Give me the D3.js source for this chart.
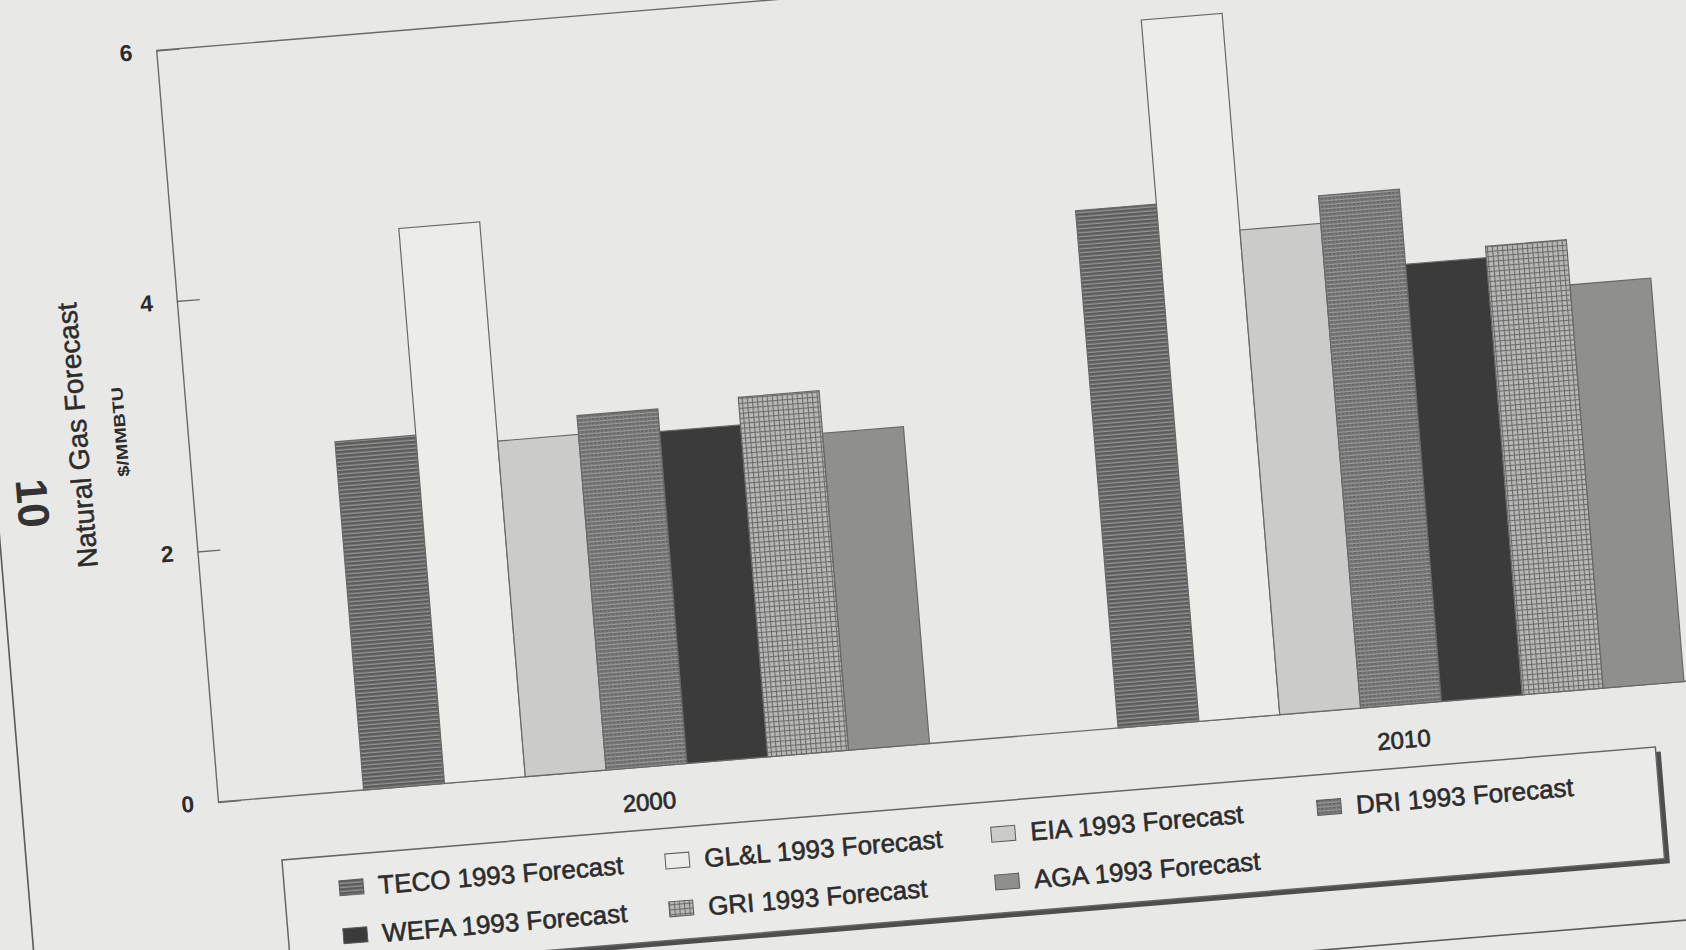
<!DOCTYPE html>
<html>
<head>
<meta charset="utf-8">
<script src="https://cdn.jsdelivr.net/npm/d3@7"></script>
<style>
  html, body { margin: 0; padding: 0; background: #e8e8e6; }
  svg { display: block; }
  text { font-family: "Liberation Sans", Arial, sans-serif; }
</style>
</head>
<body>
<svg id="chart" width="1686" height="950"></svg>
<script>
// Natural gas price forecasts, $/MMBTU
const categories = ["2000", "2010"];
const seriesNames = [
  "TECO 1993 Forecast", "GL&L 1993 Forecast", "EIA 1993 Forecast", "DRI 1993 Forecast",
  "WEFA 1993 Forecast", "GRI 1993 Forecast", "AGA 1993 Forecast"
];
const teco = [2.78, 4.13];
const gll  = [4.43, 5.60];
const eia  = [2.68, 3.87];
const dri  = [2.83, 4.09];
const wefa = [2.65, 3.49];
const gri  = [2.87, 3.58];
const aga  = [2.53, 3.22];
const yTicks = [0, 2, 4, 6];
const yTitle = "Natural Gas Forecast";
const yUnits = "$/MMBTU";
const pageNumber = "10";

const seriesValues = [teco, gll, eia, dri, wefa, gri, aga];
const seriesFills = ["url(#hlines)", "#ecece9", "#cbcbc9", "url(#grid-dark)", "#3b3b3b", "url(#grid-light)", "#8f8f8d"];

const W = 1686, H = 950;
const plotW = 1617, plotH = 754;
const ink = "#2c2c2c", lineCol = "#6a6a6a";

const svg = d3.select("#chart");
const defs = svg.append("defs");

function pattern(id, w, h) {
  return defs.append("pattern").attr("id", id)
    .attr("patternUnits", "userSpaceOnUse").attr("width", w).attr("height", h);
}
// horizontal hatching
let p = pattern("hlines", 4, 4);
p.append("rect").attr("width", 4).attr("height", 4).attr("fill", "#5c5c5c");
p.append("rect").attr("y", 2.7).attr("width", 4).attr("height", 1.1).attr("fill", "#a3a3a3");
// dense dark grid
p = pattern("grid-dark", 4, 4);
p.append("rect").attr("width", 4).attr("height", 4).attr("fill", "#686868");
p.append("rect").attr("y", 2.8).attr("width", 4).attr("height", 1).attr("fill", "#acacac");
p.append("rect").attr("x", 2.8).attr("width", 0.8).attr("height", 4).attr("fill", "#8a8a8a");
// open light grid
p = pattern("grid-light", 5, 5);
p.append("rect").attr("width", 5).attr("height", 5).attr("fill", "#b8b8b6");
p.append("rect").attr("width", 5).attr("height", 1.1).attr("fill", "#6c6c6c");
p.append("rect").attr("width", 1.1).attr("height", 5).attr("fill", "#6c6c6c");

// paper
svg.append("rect").attr("width", W).attr("height", H).attr("fill", "#e8e8e6");

// the whole sheet sits slightly rotated; origin at the plot's bottom-left corner
const g = svg.append("g").attr("transform", "translate(218,802) rotate(-4.7)");

// page border lines
g.append("line").attr("x1", -196).attr("y1", -1400).attr("x2", -196).attr("y2", 600)
  .attr("stroke", "#5a5a5a").attr("stroke-width", 1.6);
g.append("line").attr("x1", -196).attr("y1", 238).attr("x2", 2000).attr("y2", 238)
  .attr("stroke", "#5a5a5a").attr("stroke-width", 1.6);

const x0 = d3.scaleBand().domain(categories).range([0, plotW])
  .paddingInner(0.25).paddingOuter(0.193);
const x1 = d3.scaleBand().domain(seriesNames).range([0, x0.bandwidth()]);
const y = d3.scaleLinear().domain([0, 6]).range([0, -plotH]);

// plot frame (top and right edges) and baseline
g.append("path")
  .attr("d", `M0,${y(6)}H${plotW}V${y(0)}`)
  .attr("fill", "none").attr("stroke", lineCol).attr("stroke-width", 1.4);
g.append("line").attr("x1", 0).attr("x2", plotW).attr("y1", y(0)).attr("y2", y(0))
  .attr("stroke", lineCol).attr("stroke-width", 1.4);

// bars
const barData = [];
categories.forEach((c, ci) => seriesNames.forEach((s, si) =>
  barData.push({ cat: c, series: s, si, value: seriesValues[si][ci] })));

g.append("g").selectAll("rect").data(barData).join("rect")
  .attr("x", d => x0(d.cat) + x1(d.series))
  .attr("y", d => y(d.value))
  .attr("width", x1.bandwidth())
  .attr("height", d => y(0) - y(d.value))
  .attr("fill", d => seriesFills[d.si])
  .attr("stroke", "#686868").attr("stroke-width", 1.2);

// y axis
const yAxis = g.append("g")
  .call(d3.axisLeft(y).tickValues(yTicks).tickFormat(d3.format("d"))
    .tickSizeInner(-23).tickSizeOuter(0).tickPadding(24));
yAxis.select(".domain").attr("stroke", lineCol).attr("stroke-width", 1.4);
yAxis.selectAll(".tick line").attr("stroke", lineCol).attr("stroke-width", 1.4);
yAxis.selectAll(".tick text")
  .attr("font-family", "Liberation Sans, Arial, sans-serif")
  .attr("font-size", 23).attr("font-weight", "bold").attr("fill", ink);

// category labels
g.append("g").selectAll("text").data(categories).join("text")
  .attr("x", d => x0(d) + x0.bandwidth() / 2)
  .attr("y", 35)
  .attr("text-anchor", "middle").attr("dominant-baseline", "central")
  .attr("font-size", 24).attr("fill", ink)
  .attr("stroke", ink).attr("stroke-width", 0.7)
  .text(d => d);

// axis titles
g.append("text")
  .attr("transform", `translate(-110,${y(3)}) rotate(-90)`)
  .attr("text-anchor", "middle").attr("dominant-baseline", "central")
  .attr("font-size", 28).attr("fill", ink).attr("stroke", ink).attr("stroke-width", 0.5)
  .text(yTitle);
g.append("text")
  .attr("transform", `translate(-67,${y(3)}) rotate(-90)`)
  .attr("text-anchor", "middle").attr("dominant-baseline", "central")
  .attr("font-size", 16).attr("font-weight", "bold").attr("fill", ink)
  .attr("textLength", 90).attr("lengthAdjust", "spacingAndGlyphs")
  .text(yUnits);

// page number
g.append("text")
  .attr("transform", `translate(-160,-313) rotate(90)`)
  .attr("text-anchor", "middle").attr("dominant-baseline", "central")
  .attr("font-family", "Liberation Serif, serif")
  .attr("font-size", 44).attr("font-weight", "bold").attr("fill", "#333")
  .text(pageNumber);

// legend
const legend = g.append("g");
legend.append("rect").attr("x", 64).attr("y", 68).attr("width", 1378).attr("height", 112)
  .attr("fill", "#4e4e4e");
legend.append("rect").attr("x", 59).attr("y", 63).attr("width", 1378).attr("height", 112)
  .attr("fill", "#eaeae8").attr("stroke", "#666").attr("stroke-width", 1.5);

const items = legend.selectAll("g.item").data(seriesNames).join("g").attr("class", "item")
  .attr("transform", (d, i) => `translate(${114 + (i % 4) * 327},${96 + Math.floor(i / 4) * 48})`);
items.append("rect").attr("x", 0).attr("y", -7.5).attr("width", 24).attr("height", 15)
  .attr("fill", (d, i) => seriesFills[i]).attr("stroke", "#5a5a5a").attr("stroke-width", 1);
items.append("text").attr("x", 39).attr("y", 0)
  .attr("dominant-baseline", "central")
  .attr("font-size", 26).attr("fill", ink).attr("stroke", ink).attr("stroke-width", 0.6)
  .text(d => d);
</script>
</body>
</html>
